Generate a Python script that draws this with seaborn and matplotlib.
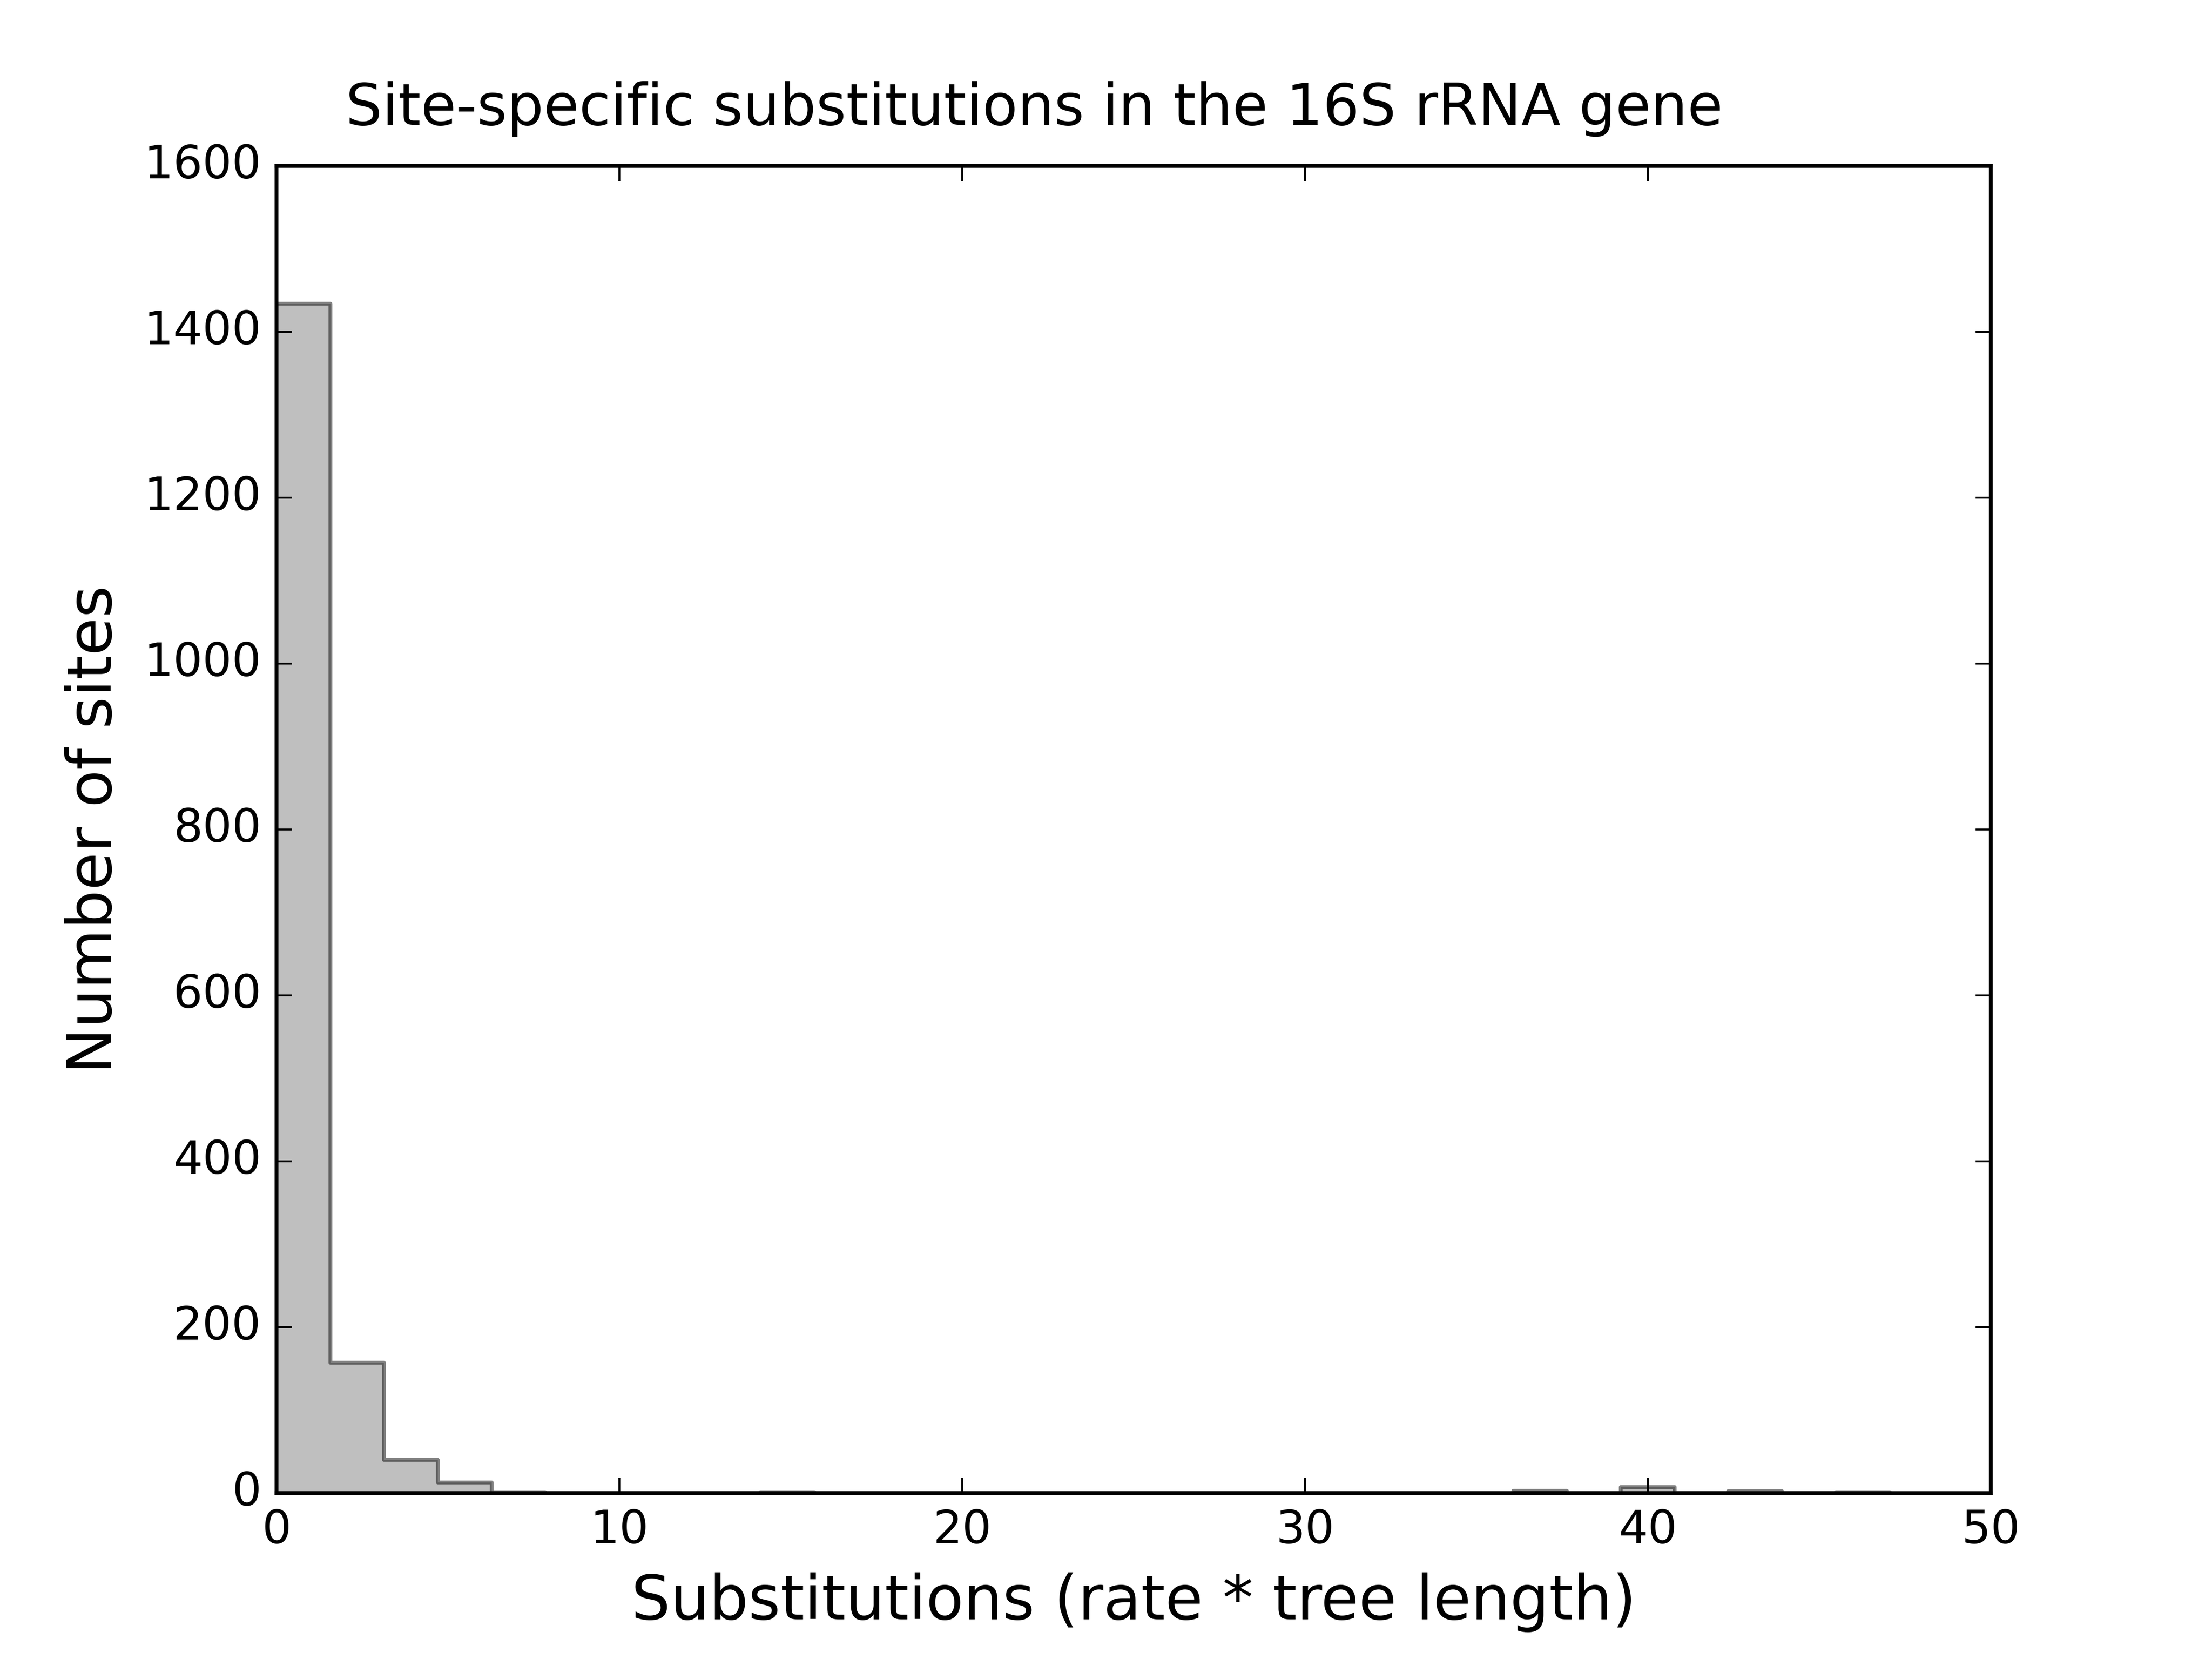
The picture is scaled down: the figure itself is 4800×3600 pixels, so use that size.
import numpy as np
import pandas as pd
import seaborn as sns
import matplotlib
matplotlib.use("Agg")
import matplotlib.pyplot as plt

# histogram of site rates, 30 bins between 0 and the largest value
bin_min = 0.0
bin_max = 47.05
n_bins = 30
counts = [1434, 157, 40, 13, 1, 0, 0, 0, 0, 1,
          0, 0, 0, 0, 0, 0, 0, 0, 0, 0,
          0, 0, 0, 3, 0, 7, 0, 2, 0, 1]

x_ticks = [0, 10, 20, 30, 40, 50]
y_ticks = [0, 200, 400, 600, 800, 1000, 1200, 1400, 1600]

edges = np.linspace(bin_min, bin_max, n_bins + 1)
df = pd.DataFrame({"rate": (edges[:-1] + edges[1:]) / 2, "n": counts})

plt.style.use("classic")
plt.rcParams["font.family"] = ["DejaVu Sans"]
plt.rcParams["figure.facecolor"] = "white"
plt.rcParams["savefig.facecolor"] = "white"

fig, ax = plt.subplots(figsize=(8, 6))
fig.subplots_adjust(left=0.125, right=0.9, bottom=0.1, top=0.9)

sns.histplot(data=df, x="rate", weights="n", bins=list(edges), element="step",
             fill=True, facecolor=(0.5, 0.5, 0.5, 0.5),
             edgecolor=(0, 0, 0, 0.5), linewidth=1.0, ax=ax)

ax.set_xlim(0, 50)
ax.set_ylim(0, 1600)
ax.set_xticks(x_ticks)
ax.set_yticks(y_ticks)
ax.tick_params(labelsize=12)
ax.set_xlabel("Substitutions (rate * tree length)", fontsize=16)
ax.set_ylabel("Number of sites", fontsize=16)
ax.set_title("Site-specific substitutions in the 16S rRNA gene", fontsize=15,
             x=0.442, pad=10.7)

fig.savefig("out.png", dpi=600)
